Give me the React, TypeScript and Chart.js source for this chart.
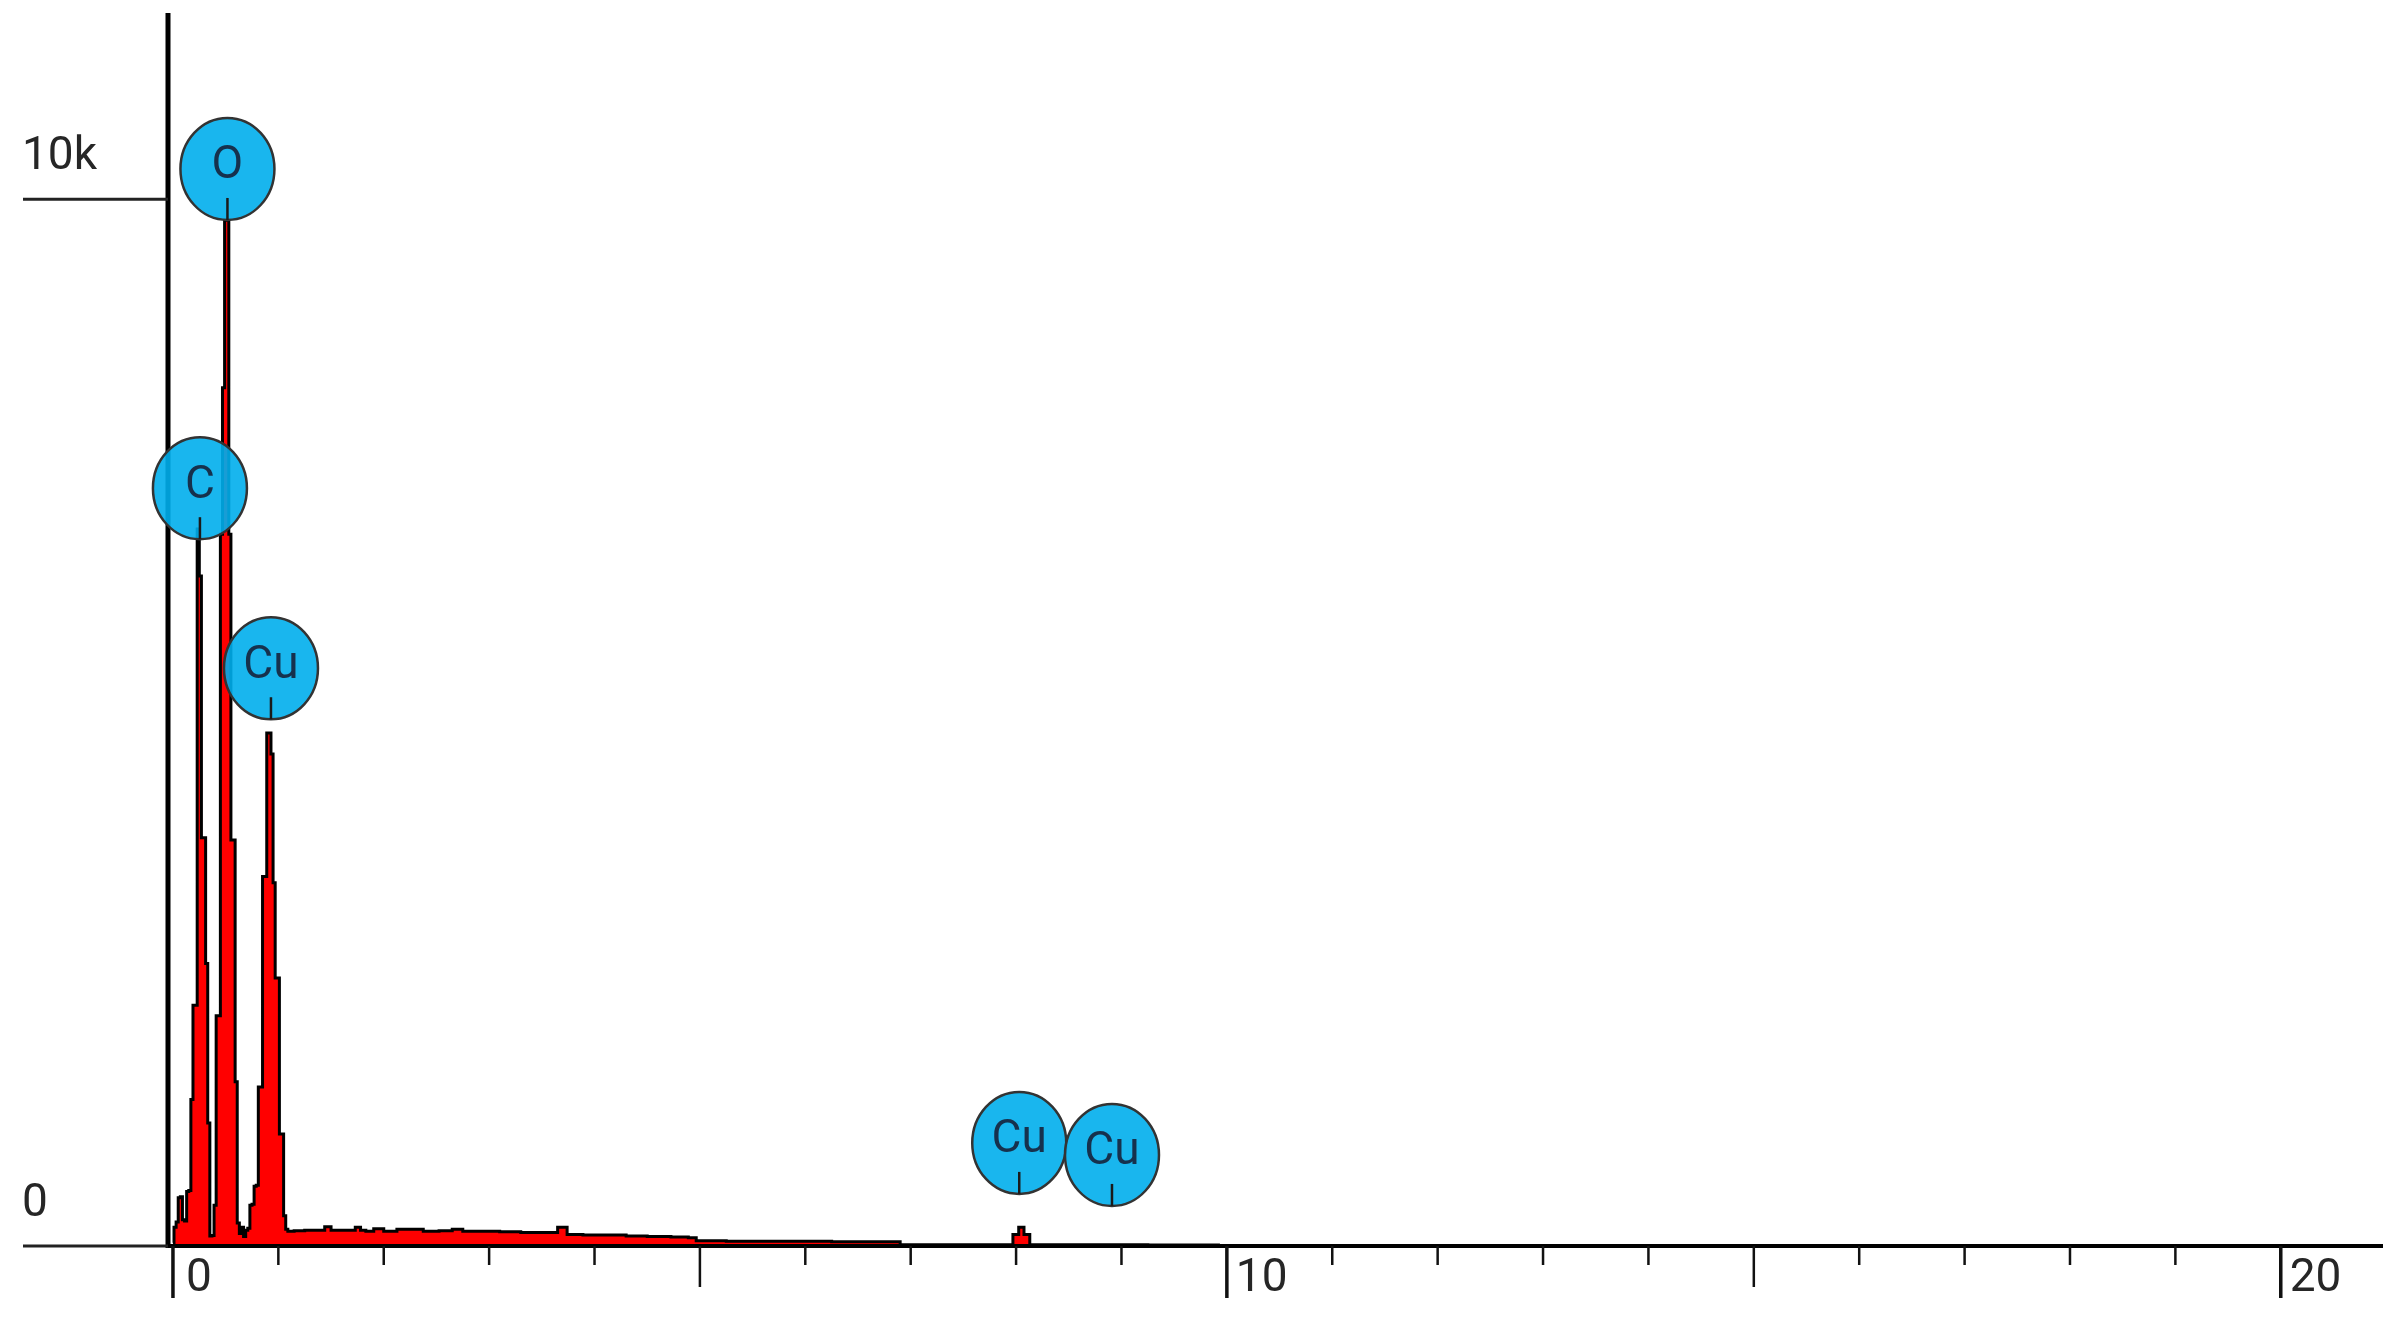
import React, { useEffect, useRef } from "react";
import { Chart, registerables } from "chart.js";

Chart.register(...registerables);

// Spectrum: energy (keV) and counts
const energyKeV = [
  0.0, 0.02, 0.04, 0.06, 0.08, 0.1, 0.12, 0.14, 0.16, 0.18,
  0.2, 0.22, 0.24, 0.26, 0.28, 0.3, 0.32, 0.34, 0.36, 0.38,
  0.4, 0.42, 0.44, 0.46, 0.48, 0.5, 0.52, 0.54, 0.56, 0.58,
  0.6, 0.62, 0.64, 0.66, 0.68, 0.7, 0.72, 0.74, 0.76, 0.78,
  0.8, 0.82, 0.84, 0.86, 0.88, 0.9, 0.92, 0.94, 0.96, 0.98,
  1.0, 1.02, 1.04, 1.06, 1.08, 1.1, 1.2, 1.3, 1.4, 1.48,
  1.52, 1.6, 1.7, 1.76, 1.8, 1.86, 1.95, 2.05, 2.2, 2.3,
  2.45, 2.6, 2.7, 2.8, 3.0, 3.2, 3.4, 3.6, 3.7, 3.78,
  4.0, 4.2, 4.4, 4.6, 4.85, 4.93, 5.0, 5.5, 6.0, 6.5,
  6.88, 6.92, 7.5, 7.94, 8.0, 8.05, 8.1, 8.16, 8.5, 9.0,
  9.5, 9.9, 9.94,
];
const counts = [
  30, 180, 230, 460, 470, 250, 240, 520, 530, 1400,
  2300, 2300, 6850, 6400, 3900, 3900, 2700, 1175, 95, 100,
  390, 2200, 2200, 6800, 8200, 9800, 9800, 6800, 3880, 3880,
  1570, 220, 120, 180, 90, 150, 170, 390, 400, 570,
  580, 1520, 1520, 3530, 3530, 4900, 4900, 4700, 3470, 2560,
  2560, 1070, 1070, 290, 160, 140, 145, 150, 150, 185,
  150, 150, 150, 180, 150, 140, 165, 140, 160, 160,
  140, 145, 160, 140, 140, 135, 130, 130, 180, 110,
  105, 105, 95, 90, 85, 80, 50, 45, 45, 40,
  40, 12, 12, 12, 110, 180, 110, 12, 12, 12,
  10, 10, 0,
];

// Element markers
const labelNames = ["C", "O", "Cu", "Cu", "Cu"];
const labelEnergy = [0.256, 0.517, 0.93, 8.03, 8.91];
const labelCounts = [7240, 10290, 5520, 985, 870];

// Axes
const yTickValues = [0, 10000];
const yTickLabels = ["0", "10k"];
const xMajorTicks = [0, 10, 20];
const xMajorLabels = ["0", "10", "20"];
const xMidTicks = [5, 15];
const xMinorTicks = [1, 2, 3, 4, 6, 7, 8, 9, 11, 12, 13, 14, 16, 17, 18, 19];
const X_MIN = -0.047;
const X_MAX = 20.97;
const Y_MAX = 11780;

const FONT = "46px Roboto, 'Noto Sans', sans-serif";

const edsPlugin = {
  id: "edsDecor",
  afterDatasetsDraw(chart: any) {
    const { ctx, chartArea } = chart;
    const xs = chart.scales.x;
    const ys = chart.scales.y;
    const base = ys.getPixelForValue(0);
    ctx.save();

    // y axis line
    ctx.strokeStyle = "#000";
    ctx.lineWidth = 5;
    ctx.beginPath();
    ctx.moveTo(chartArea.left, chartArea.top);
    ctx.lineTo(chartArea.left, base + 2);
    ctx.stroke();

    // x axis baseline
    ctx.lineWidth = 4;
    ctx.beginPath();
    ctx.moveTo(chartArea.left, base);
    ctx.lineTo(chartArea.right, base);
    ctx.stroke();

    // y ticks + labels
    ctx.font = FONT;
    ctx.fillStyle = "#262626";
    ctx.textBaseline = "middle";
    ctx.textAlign = "left";
    yTickValues.forEach((v, i) => {
      const y = ys.getPixelForValue(v);
      ctx.strokeStyle = "#222";
      ctx.lineWidth = 3;
      ctx.beginPath();
      ctx.moveTo(23, y);
      ctx.lineTo(chartArea.left, y);
      ctx.stroke();
      ctx.fillText(yTickLabels[i], 22, y - 42);
    });

    // x ticks
    const drawTick = (v: number, len: number, w: number) => {
      const x = xs.getPixelForValue(v);
      ctx.strokeStyle = "#111";
      ctx.lineWidth = w;
      ctx.beginPath();
      ctx.moveTo(x, base);
      ctx.lineTo(x, base + len);
      ctx.stroke();
      return x;
    };
    xMinorTicks.forEach((v) => drawTick(v, 19, 2.5));
    xMidTicks.forEach((v) => drawTick(v, 41, 2.5));
    xMajorTicks.forEach((v, i) => {
      const x = drawTick(v, 52, 3.5);
      ctx.fillStyle = "#262626";
      ctx.fillText(xMajorLabels[i], x + (v === 0 ? 13 : 9), base + 33);
    });

    // element markers
    labelNames.forEach((name, i) => {
      const cx = xs.getPixelForValue(labelEnergy[i]);
      const cy = ys.getPixelForValue(labelCounts[i]);
      const rx = 47;
      const ry = 51;
      ctx.beginPath();
      ctx.ellipse(cx, cy, rx, ry, 0, 0, Math.PI * 2);
      ctx.fillStyle = "rgba(0,174,236,0.9)";
      ctx.fill();
      ctx.strokeStyle = "#333";
      ctx.lineWidth = 2.5;
      ctx.stroke();
      ctx.beginPath();
      ctx.moveTo(cx, cy + 29);
      ctx.lineTo(cx, cy + ry);
      ctx.strokeStyle = "#1a1a1a";
      ctx.lineWidth = 2.5;
      ctx.stroke();
      ctx.fillStyle = "#16314d";
      ctx.textAlign = "center";
      ctx.textBaseline = "middle";
      ctx.fillText(name, cx, cy - 2);
    });
    ctx.restore();
  },
};

export default function App() {
  const canvasRef = useRef<HTMLCanvasElement | null>(null);
  useEffect(() => {
    document.body.style.margin = "0";
    const canvas = canvasRef.current;
    if (!canvas) return;
    const points = energyKeV.map((e, i) => ({ x: e, y: counts[i] }));
    const chart = new Chart(canvas, {
      type: "line",
      data: {
        datasets: [
          {
            data: points,
            borderColor: "#000",
            borderWidth: 3,
            backgroundColor: "#ff0000",
            fill: "origin",
            pointRadius: 0,
            stepped: "middle",
          },
        ],
      },
      options: {
        responsive: false,
        animation: false,
        devicePixelRatio: 1,
        layout: { padding: { left: 168, top: 13, right: 15, bottom: 71 } },
        plugins: { legend: { display: false }, tooltip: { enabled: false } },
        scales: {
          x: { type: "linear", min: X_MIN, max: X_MAX, display: false },
          y: { type: "linear", min: 0, max: Y_MAX, display: false },
        },
      },
      plugins: [edsPlugin],
    });
    return () => chart.destroy();
  }, []);
  return (
    <div style={{ width: 2398, height: 1317, background: "#fff" }}>
      <canvas ref={canvasRef} width={2398} height={1317} style={{ display: "block" }} />
    </div>
  );
}
